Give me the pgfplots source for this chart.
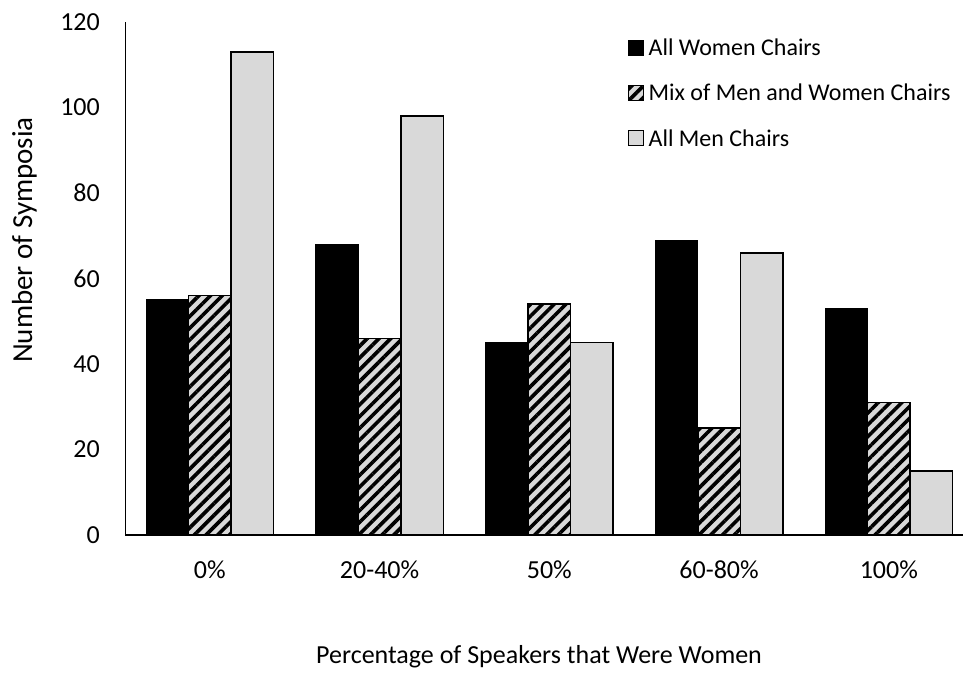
\documentclass[border=0pt]{standalone}
\usepackage{fontspec}
\setmainfont{Carlito}
\usepackage{pgfplots}
\pgfplotsset{compat=1.18}
\usetikzlibrary{patterns.meta}
\definecolor{barGray}{HTML}{D9D9D9}

\begin{document}
\begin{tikzpicture}
\useasboundingbox (0,0) rectangle (963pt,694pt);
\begin{axis}[
  at={(125pt,159pt)}, anchor=south west,
  scale only axis,
  width=838pt, height=513pt,
  ybar=0pt, bar width=42.5pt,
  xmin=-0.5, xmax=4.437,
  ymin=0, ymax=120,
  ytick={0,20,...,120},
  xtick=data,
  xticklabels={0\%,20-40\%,50\%,60-80\%,100\%},
  axis x line*=bottom, axis y line*=left,
  x axis line style={line width=1.5pt},
  y axis line style={line width=1pt},
  tick style={draw=none},
  ticklabel style={font=\fontsize{26}{30}\selectfont},
  /pgf/number format/assume math mode=true,
  yticklabel style={inner sep=0pt, xshift=-25pt},
  xticklabel style={inner sep=0pt, yshift=-21pt},
  xlabel={Percentage of Speakers that Were Women},
  ylabel={Number of Symposia},
  xlabel style={font=\fontsize{26}{30}\selectfont, at={(axis description cs:0.494,-0.238)}, anchor=center},
  ylabel style={font=\fontsize{29}{33}\selectfont, at={(axis description cs:-0.12,0.575)}, anchor=center},
  legend style={draw=none, fill=none, at={(axis description cs:0.596,0.975)}, anchor=north west,
    font=\fontsize{24}{28}\selectfont, row sep=23pt,
    /tikz/every even column/.append style={column sep=4pt}},
  legend cell align=left,
  legend image code/.code={\draw[#1, line width=1pt] (0pt,-7.5pt) rectangle (15pt,7.5pt);},
]
\addplot[draw=black, line width=1pt, fill=black] coordinates {(0,55) (1,68) (2,45) (3,69) (4,53)};
\addplot[draw=black, line width=1.5pt, fill=barGray,
  postaction={pattern={Lines[angle=45, distance=8.3pt, line width=3.6pt]}, pattern color=black}]
  coordinates {(0,56) (1,46) (2,54) (3,25) (4,31)};
\addplot[draw=black, line width=1.5pt, fill=barGray] coordinates {(0,113) (1,98) (2,45) (3,66) (4,15)};
\legend{\hspace{3pt}All Women Chairs, \hspace{3pt}Mix of Men and Women Chairs, \hspace{3pt}All Men Chairs}
\end{axis}
\end{tikzpicture}
\end{document}
